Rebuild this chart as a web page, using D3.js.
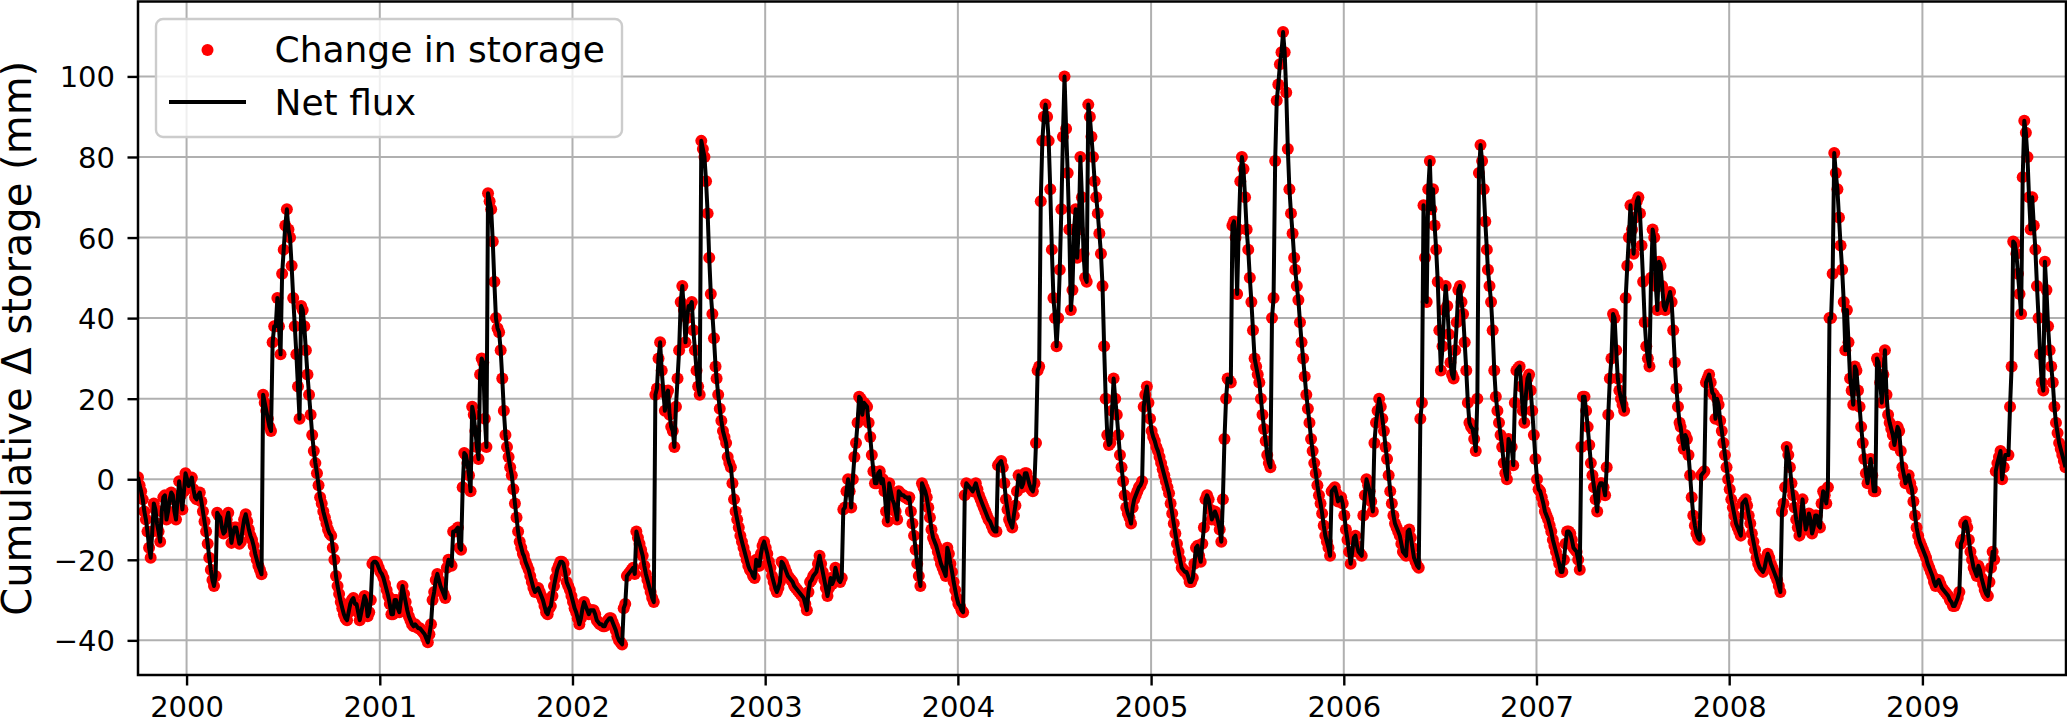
<!DOCTYPE html>
<html>
<head>
<meta charset="utf-8">
<script src="https://cdn.jsdelivr.net/npm/d3@7"></script>
<style>
  body { margin: 0; background: #fff; }
  svg { display: block; }
  text { font-family: "DejaVu Sans", sans-serif; }
</style>
</head>
<body>
<svg id="chart" width="2067" height="720"></svg>
<script>
// cumulative change in storage (mm), one value every 3 days from 1 Oct of each water year
const waterYears = [2000, 2001, 2002, 2003, 2004, 2005, 2006, 2007, 2008, 2009];
const stepDays = 3;

const wy2000 = [
  0.5, -1.5, -3, -5, -8, -10, -13, -17, -19.5, -13,
  -6, -7.5, -11, -13, -15.5, -8, -4.5, -4, -10, -8,
  -5, -3.3, -4, -8, -10, -5, -0.5, -4, -7.5, -3,
  1.5, 0, -1.7, -0.5, 0.4, -2.5, -4.5, -5, -4, -3.3,
  -5.5, -8, -10.5, -13, -16, -19.5, -22.5, -25, -26.5, -24,
  -8.3, -9, -9.5, -12, -13.5, -13, -10, -8.3, -12, -15.8,
  -13.5, -12, -12, -14, -16, -15.5, -12.5, -10, -8.7, -10.5,
  -12.5, -14, -15, -16.5, -18.5, -20, -21.5, -22.5, -23.6, 21,
  19, 17, 15, 13, 12, 34, 38, 38, 45, 38,
  31, 51, 57, 63, 67, 62, 60, 53, 45, 38,
  31, 23, 15, 43, 42, 38, 32, 26, 21, 16,
  11, 7, 4, 1.5, -1.5, -4.5, -6, -8, -9.5, -11,
  -12.5, -13.5
];
const wy2001 = [
  -14, -17, -20, -24, -26.5, -28.5, -30.5, -32, -33.5, -34.5,
  -35, -33, -31, -30, -29.5, -31, -31, -33, -35, -33,
  -31, -29, -30, -34, -33, -30, -21, -20.5, -20.5, -21,
  -22, -23, -23.5, -24.5, -26, -27.5, -29, -31, -33.5, -33.5,
  -30, -30, -32, -33, -30, -26.5, -28.5, -30.5, -32.5, -34,
  -35, -36, -36.5, -36, -36.5, -37, -37, -37.5, -38, -38.5,
  -39.5, -40.5, -38.5, -36, -30, -28, -25, -23.5, -25, -26.5,
  -27.5, -28.5, -29.5, -22, -20, -21, -21.5, -13, -13, -12.5,
  -12, -17, -17.5, -2, 6.5, 6, 4, 1, -3, 18,
  16, 12, 8, 5, 26, 30, 29, 15, 8, 71,
  69, 67, 59, 49, 40, 37.5, 36.5, 32, 25, 17,
  11, 8, 5.5, 3, 1, -2.5, -6, -9.5, -13, -15.5,
  -17, -18.5
];
const wy2002 = [
  -19, -20.5, -21.5, -22.5, -24, -25.5, -27, -28, -27.5, -27,
  -28, -29, -30, -31.5, -33, -33.5, -32, -31.5, -29, -26.5,
  -24.5, -22.5, -21.5, -20.5, -20.5, -21, -23, -25.5, -26.5, -27.5,
  -29, -30.5, -32, -33, -34.5, -36, -34.5, -32, -30.5, -31.5,
  -32.5, -33.5, -32.5, -32.5, -32.5, -33.5, -35, -35.5, -36, -36,
  -36.5, -36.5, -35.5, -35, -34.5, -34.5, -35.5, -36.5, -37.5, -39,
  -40, -40.5, -41, -32, -31, -24, -23.5, -23, -22.5, -22,
  -23.5, -13, -14.5, -16, -17.5, -19, -21.5, -23.5, -25, -26.5,
  -28, -29.5, -30.5, 21, 22.5, 30, 34, 27, 22, 17,
  21, 22, 16, 13, 12, 8, 18, 25, 32, 44,
  48, 42, 34, 40, 43, 43, 44, 37, 32, 27,
  23, 21, 84, 82, 80, 74, 66, 55, 46, 41,
  35, 28
];
const wy2003 = [
  25, 21, 17.5, 14.5, 12, 10.5, 9, 5.5, 4, 3,
  -1, -5, -8, -10, -12, -14, -15.5, -17, -18.5, -20,
  -21.5, -22.5, -23, -24, -24.5, -20, -21.5, -21.5, -18.5, -16.5,
  -15.5, -17, -18.5, -20.5, -22, -24, -25.5, -27, -28, -27,
  -25.5, -20.5, -21, -22, -23, -24, -24.5, -25, -25.5, -26.5,
  -27, -27.5, -28, -28.5, -29, -29.5, -31, -32.5, -28, -25.5,
  -25, -24, -23.5, -23, -21, -19, -21, -23, -25, -27,
  -29, -27, -24.5, -26, -25, -22, -23.5, -25, -25.5, -24.5,
  -7.5, -7, -3, 0, -3, -7, 0, 5.5, 9, 14,
  20.5, 20, 16, 19, 18.5, 18, 14, 10.5, 6, 2,
  -1, -1, 1.5, 2, -1, 0, -3, -8, -10.5, -1,
  -3, -5, -6, -8, -10, -3, -3.5, -4, -4, -4.5,
  -4.5, -5
];
const wy2004 = [
  -4.5, -8, -11, -14, -17.5, -21, -24, -26.5, -1, -2,
  -3, -4.5, -7, -9.5, -12.5, -14.5, -15.5, -16.5, -18, -19.5,
  -21, -22, -23, -24, -17, -18.5, -21, -23, -25.5, -27.5,
  -29.5, -31, -31.5, -32.5, -33, -4, -1, -1.5, -2, -2.5,
  -3, -2, -1, -2.5, -4, -5, -6, -7, -8, -9,
  -10, -10.5, -11.5, -12.5, -13, -13, 3.5, 4, 4.5, 3,
  -1, -5, -7.5, -10, -11, -12, -9, -6.5, -3, 1,
  0.5, -2, -1, 1.5, 1.5, 0, -1.5, -2.5, -3, -1,
  9, 27, 28, 69, 84, 90, 93, 90, 84, 72,
  57, 45, 40, 33, 40, 52, 67, 85, 100, 87,
  76, 62, 42, 47, 62, 67, 55, 62, 80, 70,
  56, 50, 49, 93, 90, 85, 80, 74, 70, 66,
  61, 56
];
const wy2005 = [
  48, 33, 20, 11, 8.5, 9, 17, 25, 20, 16,
  11, 6, 3, -0.5, -4, -7, -8.5, -9.5, -11, -7,
  -5, -4, -3, -2, -1.5, -0.5, 18, 21, 23, 19,
  15, 12, 10.5, 9.5, 8, 7, 5.5, 4, 2.5, 1,
  -0.5, -2, -3.5, -6, -8.5, -11, -13.5, -16, -18, -20,
  -22, -22.5, -23, -23, -24, -25.5, -25.5, -24.5, -21, -17,
  -16.5, -19, -20.5, -16, -12, -5, -4, -5, -7.5, -10,
  -9, -8, -9, -10.5, -12.5, -15.5, -5, 10, 20, 25,
  24.5, 24, 63, 64, 60, 46, 62, 74, 80, 77,
  70, 62, 57, 50, 44, 37, 30, 28, 26, 24,
  20, 16, 12.5, 9.5, 6, 4, 3, 40, 45, 79,
  94, 98, 103, 106, 111, 106, 96, 82, 72, 66,
  61, 55
];
const wy2006 = [
  52, 48, 44.5, 39, 34, 30, 25.5, 21, 17.5, 14,
  10, 7, 4, 1.5, -1.5, -4, -6, -8.5, -11.5, -14,
  -15.5, -17, -19, -3, -2.5, -2, -3.5, -5.5, -5, -4.5,
  -6, -9, -12.5, -15, -18, -21, -18, -14.5, -14, -16.5,
  -18, -18.5, -19, -9, -4, 0, -1.5, -3, -5.5, -8,
  9, 14, 17, 20, 18, 15, 12, 8, 5, 1,
  -3, -6, -9, -11, -12, -13, -14, -16, -18, -18.5,
  -19, -13, -12.5, -14.5, -17, -19.5, -20.5, -21.5, -22, 15,
  19, 68, 55, 44, 72, 79, 67, 72, 63, 57,
  49, 37, 27, 33, 42, 48, 43, 36, 29, 26,
  25, 32, 39, 47, 48, 44, 41, 34, 27, 19,
  14, 13, 12.5, 10, 7, 20, 76, 83, 79, 72,
  64, 57
];
const wy2007 = [
  52, 48, 44, 37, 27, 20.5, 17, 14, 11, 8,
  4, 1.5, 0, 10, 9, 8, 3.5, 19, 27, 27.5,
  28, 23, 17, 14, 21, 25, 26, 22, 17, 11,
  5, 0, -2.5, -3, -4.5, -6, -8, -9, -10, -11.5,
  -13, -15, -16.5, -18, -19.5, -21, -23, -23, -20, -16,
  -13, -13, -13.5, -15, -17, -17.5, -18, -20, -22.5, 8,
  20.5, 20.5, 17, 13, 8.5, 4, 1, -2, -5, -8,
  -2, -1, -1, -2, -4, 3, 16, 25, 30, 41,
  40, 32, 25, 22, 20, 18.5, 17, 45, 53, 60,
  68, 62, 56, 65, 69, 70, 66, 58, 49, 39,
  33, 30, 28, 50, 62, 60, 48, 42, 54, 53,
  48, 43, 42, 43.5, 45, 46.5, 44, 37, 29, 22.5,
  18, 14
];
const wy2008 = [
  13, 10, 7.5, 11, 10, 6, 1, -4.5, -9, -11.5,
  -13.5, -14.5, -15, 1, 1.5, 2, 24, 25, 26, 24,
  21.5, 21, 15, 20, 18.5, 14.5, 12, 9, 6, 3,
  0, -2.5, -5, -7, -9, -11, -12, -13, -14, -6,
  -5.5, -5, -6.5, -9, -11, -13.5, -15.5, -17.5, -19.5, -21,
  -22, -22.5, -23, -22, -20, -18.5, -19.5, -21, -22, -23,
  -24, -25, -26.5, -28, -8, -6, -2, 8, 6, 3,
  -1, -4, -7, -10, -12, -14, -9, -5, -9, -12.5,
  -11, -8.5, -10, -13.5, -12, -9, -9, -11.5, -12, -6,
  -3, -4, -6, -2, 40, 40, 51, 81, 76, 72,
  65, 58, 52, 44, 32, 42, 34, 25, 22, 18.5,
  28, 27, 22, 18, 13, 9, 5, 1.5, -1, 2,
  5, 1
];
const wy2009 = [
  -3, -3, 30, 29, 24, 19, 26, 32, 21, 16,
  14, 12.5, 11, 8.5, 11, 13, 12, 7, 3, 1,
  -1, 0, 1, -1, -2.5, -5.5, -9, -12, -14, -15.5,
  -16.5, -17.5, -18.5, -19.5, -21, -22, -23, -24, -25.5, -26.5,
  -25.5, -25, -26, -27, -27.5, -28, -28.5, -29, -30, -30.5,
  -31.5, -31.5, -30.5, -29.5, -28, -16, -15, -11, -10.5, -12,
  -15, -18, -20, -22, -23, -24, -21.5, -22.5, -24.5, -26,
  -27.5, -28.5, -29, -25.5, -22, -18, -20, 2, 4, 5.5,
  7, 0, 3, 6, 6, 6, 18, 28, 59, 58.5,
  56, 51, 46, 41, 75, 89, 86, 80, 70, 62,
  70, 63, 57, 48, 40, 31, 24, 22, 54, 47,
  38, 32, 28, 24, 18, 14, 11.5, 9, 7.5, 6,
  4.5, 3
];
const storageByYear = [wy2000, wy2001, wy2002, wy2003, wy2004, wy2005, wy2006, wy2007, wy2008, wy2009];

const yTicks = [-40, -20, 0, 20, 40, 60, 80, 100];
const xTickYears = [2000, 2001, 2002, 2003, 2004, 2005, 2006, 2007, 2008, 2009];
const legendLabels = ["Change in storage", "Net flux"];
const yLabel = "Cumulative \u0394 storage (mm)";

const data = [];
waterYears.forEach((wy, k) => {
  const start = new Date(Date.UTC(wy - 1, 9, 1));
  storageByYear[k].forEach((v, i) => {
    data.push({ date: d3.utcDay.offset(start, i * stepDays), value: v });
  });
});

const width = 2067;
const height = 720;
const plot = { left: 138, right: 2066, top: 1.5, bottom: 675 };

const x = d3.scaleUtc()
  .domain([new Date(Date.UTC(1999, 9, 1)), new Date(Date.UTC(2009, 8, 30))])
  .range([plot.left, plot.right]);

const [lo, hi] = d3.extent(data, (d) => d.value);
const pad = (hi - lo) * 0.05;
const y = d3.scaleLinear()
  .domain([lo - pad, hi + pad])
  .range([plot.bottom, plot.top]);

const svg = d3.select("#chart");
svg.append("rect").attr("width", width).attr("height", height).attr("fill", "#fff");

svg.append("clipPath").attr("id", "plot-clip")
  .append("rect")
  .attr("x", plot.left).attr("y", plot.top)
  .attr("width", plot.right - plot.left).attr("height", plot.bottom - plot.top);

const xTicks = xTickYears.map((yr) => new Date(Date.UTC(yr, 0, 1)));

// grid
const grid = svg.append("g").attr("stroke", "#b0b0b0").attr("stroke-width", 2);
grid.selectAll("line.gx").data(xTicks).join("line")
  .attr("class", "gx")
  .attr("x1", (d) => x(d)).attr("x2", (d) => x(d))
  .attr("y1", plot.top).attr("y2", plot.bottom);
grid.selectAll("line.gy").data(yTicks).join("line")
  .attr("class", "gy")
  .attr("x1", plot.left).attr("x2", plot.right)
  .attr("y1", (d) => y(d)).attr("y2", (d) => y(d));

const marks = svg.append("g").attr("clip-path", "url(#plot-clip)");

marks.append("g")
  .selectAll("circle")
  .data(data)
  .join("circle")
  .attr("cx", (d) => x(d.date))
  .attr("cy", (d) => y(d.value))
  .attr("r", 6)
  .attr("fill", "#ff0000");

marks.append("path")
  .datum(data)
  .attr("fill", "none")
  .attr("stroke", "#000")
  .attr("stroke-width", 4)
  .attr("stroke-linejoin", "round")
  .attr("d", d3.line().x((d) => x(d.date)).y((d) => y(d.value)));

// axes
const xAxis = svg.append("g")
  .attr("transform", `translate(0,${plot.bottom})`)
  .call(d3.axisBottom(x).tickValues(xTicks).tickFormat(d3.utcFormat("%Y"))
    .tickSize(10.5).tickSizeOuter(0).tickPadding(11));
const yAxis = svg.append("g")
  .attr("transform", `translate(${plot.left},0)`)
  .call(d3.axisLeft(y).tickValues(yTicks).tickFormat(d3.format("d"))
    .tickSize(10.5).tickSizeOuter(0).tickPadding(12.5));

[xAxis, yAxis].forEach((g) => {
  g.select(".domain").remove();
  g.selectAll(".tick line").attr("stroke", "#000").attr("stroke-width", 2.4);
  g.selectAll(".tick text")
    .attr("fill", "#000")
    .style("font-size", "29px")
    .style("font-family", '"DejaVu Sans", sans-serif');
});
yAxis.selectAll(".tick text").attr("dy", "0.36em");

// frame
svg.append("rect")
  .attr("x", plot.left).attr("y", plot.top)
  .attr("width", plot.right - plot.left).attr("height", plot.bottom - plot.top)
  .attr("fill", "none").attr("stroke", "#000").attr("stroke-width", 2.5);

// y label
svg.append("text")
  .attr("transform", `translate(31,${(plot.top + plot.bottom) / 2}) rotate(-90)`)
  .attr("text-anchor", "middle")
  .style("font-size", "40px")
  .attr("fill", "#000")
  .text(yLabel);

// legend
const legend = svg.append("g");
legend.append("rect")
  .attr("x", 156).attr("y", 19).attr("width", 466).attr("height", 118).attr("rx", 7)
  .attr("fill", "#fff").attr("fill-opacity", 0.8)
  .attr("stroke", "#cccccc").attr("stroke-width", 2.4);
legend.append("circle").attr("cx", 207.5).attr("cy", 50).attr("r", 6).attr("fill", "#ff0000");
legend.append("line")
  .attr("x1", 169).attr("x2", 246).attr("y1", 102).attr("y2", 102)
  .attr("stroke", "#000").attr("stroke-width", 4);
legend.selectAll("text.lab").data(legendLabels).join("text")
  .attr("class", "lab")
  .attr("x", 274.5)
  .attr("y", (d, i) => 62 + i * 53)
  .style("font-size", "36px")
  .attr("fill", "#000")
  .text((d) => d);
</script>
</body>
</html>
